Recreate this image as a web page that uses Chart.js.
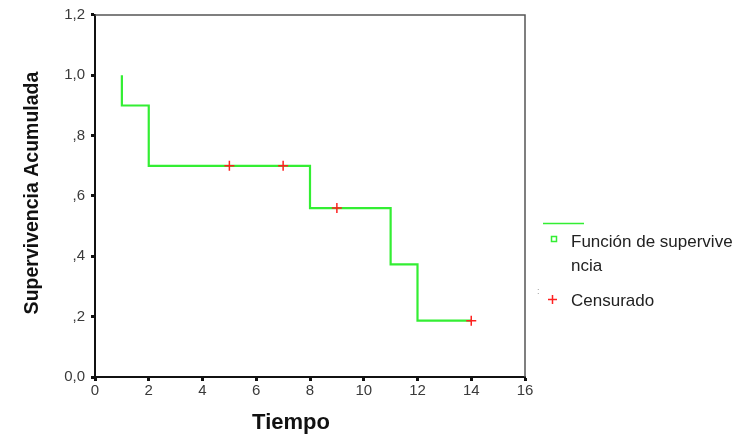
<!DOCTYPE html>
<html>
<head>
<meta charset="utf-8">
<script src="https://cdn.jsdelivr.net/npm/chart.js@4"></script>
<style>
  html, body { margin: 0; padding: 0; background: #fff; }
  #wrap { width: 746px; height: 436px; }
</style>
</head>
<body>
<div id="wrap"><canvas id="km" width="746" height="436"></canvas></div>
<script>
// --- Datos ---
const stepTimes = [1, 1, 2, 8, 11, 12, 14];
const stepSurvival = [1.0, 0.9, 0.7, 0.56, 0.3733, 0.1867, 0.1867];
const censoredTimes = [5, 7, 9, 14];
const censoredSurvival = [0.7, 0.7, 0.56, 0.1867];
const xTicks = [0, 2, 4, 6, 8, 10, 12, 14, 16];
const yTickLabels = ['0,0', ',2', ',4', ',6', ',8', '1,0', '1,2'];

const FONT = 'Arial, "Liberation Sans", sans-serif';

// dibuja marco, títulos y leyenda
const decorPlugin = {
    id: 'decor',
    afterDraw(chart) {
        const ctx = chart.ctx;
        const a = chart.chartArea;
        ctx.save();
        // marco superior / derecho
        ctx.strokeStyle = '#555';
        ctx.lineWidth = 1.5;
        ctx.beginPath();
        ctx.moveTo(a.left, a.top);
        ctx.lineTo(a.right, a.top);
        ctx.lineTo(a.right, a.bottom);
        ctx.stroke();

        // títulos
        ctx.fillStyle = '#111';
        ctx.font = 'bold 22px ' + FONT;
        ctx.textAlign = 'center';
        ctx.textBaseline = 'middle';
        ctx.fillText('Tiempo', 291, 423);
        ctx.save();
        ctx.translate(33, 193);
        ctx.rotate(-Math.PI / 2);
        ctx.font = 'bold 19.5px ' + FONT;
        ctx.fillText('Supervivencia Acumulada', 0, 0);
        ctx.restore();

        // leyenda
        ctx.strokeStyle = '#33ee33';
        ctx.lineWidth = 1.5;
        ctx.beginPath();
        ctx.moveTo(543, 223.5);
        ctx.lineTo(584, 223.5);
        ctx.stroke();
        ctx.strokeRect(551.5, 236.5, 5, 5);

        ctx.strokeStyle = '#ff2020';
        ctx.beginPath();
        ctx.moveTo(548, 299.5); ctx.lineTo(557, 299.5);
        ctx.moveTo(552.5, 295); ctx.lineTo(552.5, 304);
        ctx.stroke();

        ctx.fillStyle = '#222';
        ctx.font = '17px ' + FONT;
        ctx.textAlign = 'left';
        ctx.textBaseline = 'alphabetic';
        ctx.fillText('Función de supervive', 571, 247);
        ctx.fillText('ncia', 571, 271);
        ctx.fillText('Censurado', 571, 306);
        ctx.fillStyle = '#999';
        ctx.font = '9px ' + FONT;
        ctx.fillText(':', 537, 294);
        ctx.restore();
    }
};

new Chart(document.getElementById('km'), {
    type: 'scatter',
    data: {
        datasets: [
            {
                label: 'Función de supervivencia',
                data: stepTimes.map((t, i) => ({ x: t, y: stepSurvival[i] })),
                showLine: true,
                stepped: 'before',
                borderColor: '#33ee33',
                borderWidth: 2.2,
                pointRadius: 0,
                fill: false,
                order: 2
            },
            {
                label: 'Censurado',
                data: censoredTimes.map((t, i) => ({ x: t, y: censoredSurvival[i] })),
                showLine: false,
                pointStyle: 'cross',
                pointRadius: 5,
                borderColor: '#ff2020',
                borderWidth: 1.5,
                order: 1
            }
        ]
    },
    options: {
        responsive: false,
        animation: false,
        layout: { padding: { left: 0, top: 15, right: 221, bottom: 0 } },
        plugins: { legend: { display: false }, tooltip: { enabled: false } },
        scales: {
            x: {
                type: 'linear',
                min: 0,
                max: 16,
                afterBuildTicks: (s) => { s.ticks = xTicks.map(v => ({ value: v })); },
                afterFit: (s) => { s.height = 59; },
                ticks: { color: '#3a3a3a', font: { family: FONT, size: 15 }, padding: 1, maxRotation: 0 },
                grid: { drawOnChartArea: false, tickLength: 4, tickWidth: 3, tickColor: '#111' },
                border: { color: '#111', width: 2 }
            },
            y: {
                type: 'linear',
                min: 0,
                max: 1.2,
                afterBuildTicks: (s) => { s.ticks = yTickLabels.map((_, i) => ({ value: i * 0.2 })); },
                afterFit: (s) => { s.width = 95; },
                ticks: {
                    color: '#3a3a3a',
                    font: { family: FONT, size: 15 },
                    padding: 6,
                    callback: (v, i) => yTickLabels[i]
                },
                grid: { drawOnChartArea: false, tickLength: 4, tickWidth: 3, tickColor: '#111' },
                border: { color: '#111', width: 2 }
            }
        }
    },
    plugins: [decorPlugin]
});
</script>
</body>
</html>
